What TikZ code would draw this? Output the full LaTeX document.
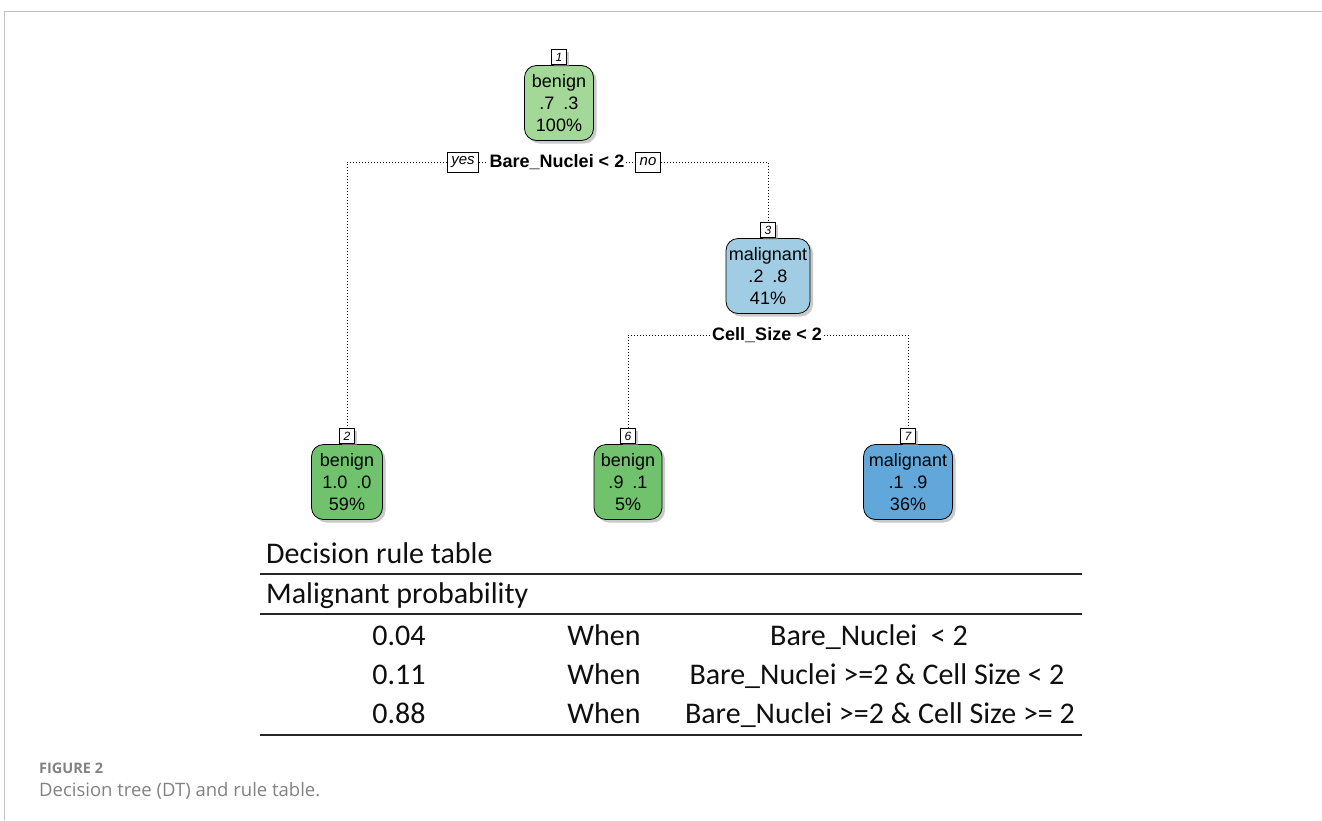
\documentclass[tikz,border=0pt]{standalone}
\usepackage{fontspec}
\setmainfont{Liberation Sans}
\newfontfamily\tabfont{Carlito}
\newfontfamily\capfont{Open Sans}
\usetikzlibrary{shadows}

\definecolor{gLight}{RGB}{163,216,152}
\definecolor{gMid}{RGB}{112,195,108}
\definecolor{bLight}{RGB}{160,204,228}
\definecolor{bMid}{RGB}{98,167,218}
\definecolor{frameGray}{RGB}{195,195,195}
\definecolor{capGray}{RGB}{130,130,130}
\definecolor{tabInk}{RGB}{15,15,15}

\begin{document}
\begin{tikzpicture}[x=1pt,y=-1pt,
  treebox/.style={draw=black, line width=0.8pt, rounded corners=12pt,
    align=center, font=\fontsize{18}{22}\selectfont, inner sep=0pt,
    minimum height=75pt,
    drop shadow={shadow xshift=3pt, shadow yshift=-3pt, fill=black!35, opacity=0.6}},
  idbox/.style={draw=black, line width=0.7pt, fill=white,
    font=\fontsize{12}{12}\selectfont\itshape, minimum width=15pt,
    minimum height=15pt, inner sep=0pt, anchor=south,
    drop shadow={shadow xshift=2pt, shadow yshift=-2pt, fill=black!35, opacity=0.6}},
  ynbox/.style={draw=black, line width=0.7pt, fill=white,
    font=\fontsize{15}{15}\selectfont\itshape, minimum height=20pt,
    inner xsep=4pt, inner ysep=0pt},
  splitlabel/.style={font=\fontsize{18}{18}\selectfont\bfseries, inner sep=2pt},
  branch/.style={line width=0.8pt, dash pattern=on 0.9pt off 2.1pt},
  rule/.style={line width=1.4pt, draw=black!85},
  tabtext/.style={font=\tabfont\fontsize{30}{30}\selectfont, text=tabInk, inner sep=0pt}
]
\useasboundingbox (0,0) rectangle (1322,820);

% outer frame
\draw[frameGray, line width=1pt] (4,820) -- (4,11) -- (1322,11);

% ---- tree nodes ----
\node[treebox, fill=gLight, minimum width=69pt] (n1) at (559,103) {benign\\.7\enspace.3\\100\%};
\node[idbox] (id1) at (n1.north) {1};

\node[treebox, fill=bLight, minimum width=84pt] (n3) at (768,276) {malignant\\.2\enspace.8\\41\%};
\node[idbox] (id3) at (n3.north) {3};

\node[treebox, fill=gMid, minimum width=71pt] (n2) at (347,482) {benign\\1.0\enspace.0\\59\%};
\node[idbox] (id2) at (n2.north) {2};

\node[treebox, fill=gMid, minimum width=68pt] (n6) at (628,482) {benign\\.9\enspace.1\\5\%};
\node[idbox] (id6) at (n6.north) {6};

\node[treebox, fill=bMid, minimum width=89pt] (n7) at (908,482) {malignant\\.1\enspace.9\\36\%};
\node[idbox] (id7) at (n7.north) {7};

% ---- split labels ----
\node[splitlabel] (s1) at (557,162) {Bare\_Nuclei < 2};
\node[ynbox] (yes) at (463,162) {yes};
\node[ynbox] (no) at (648,162) {no};
\node[splitlabel] (s3) at (767,335) {Cell\_Size < 2};

% ---- branches ----
\draw[branch] (yes.east) -- (s1.west);
\draw[branch] (s1.east) -- (no.west);
\draw[branch] (yes.west) -- (yes.west -| id2.north) -- (id2.north);
\draw[branch] (no.east) -- (no.east -| id3.north) -- (id3.north);
\draw[branch] (s3.west) -- (s3.west -| id6.north) -- (id6.north);
\draw[branch] (s3.east) -- (s3.east -| id7.north) -- (id7.north);

% ---- decision rule table ----
\draw[rule] (260,574) -- (1082,574);
\draw[rule] (260,614) -- (1082,614);
\draw[rule] (260,735) -- (1082,735);

\node[tabtext, anchor=base west] (ttl) at (266,563) {Decision rule table};
\node[tabtext, anchor=base west] (hdr) at (266,603) {Malignant probability};

\node[tabtext, anchor=base] (p1) at (399,645) {0.04};
\node[tabtext, anchor=base] (p2) at (399,684) {0.11};
\node[tabtext, anchor=base] (p3) at (399,723) {0.88};

\node[tabtext, anchor=base] (w1) at (604,645) {When};
\node[tabtext, anchor=base] (w2) at (604,684) {When};
\node[tabtext, anchor=base] (w3) at (604,723) {When};

\node[tabtext, anchor=base] (c1) at (869,645) {Bare\_Nuclei\ \ < 2};
\node[tabtext, anchor=base] (c2) at (877,684) {Bare\_Nuclei >=2 \& Cell Size < 2};
\node[tabtext, anchor=base] (c3) at (880,723) {Bare\_Nuclei >=2 \& Cell Size >= 2};

% ---- caption ----
\node[anchor=base west, inner sep=0pt, text=capGray,
  font=\capfont\bfseries\fontsize{14.5}{14.5}\selectfont] (figno) at (39,773) {FIGURE 2};
\node[anchor=base west, inner sep=0pt, text=capGray,
  font=\capfont\fontsize{18.5}{18.5}\selectfont] (figcap) at (39,796) {Decision tree (DT) and rule table.};
\end{tikzpicture}
\end{document}
